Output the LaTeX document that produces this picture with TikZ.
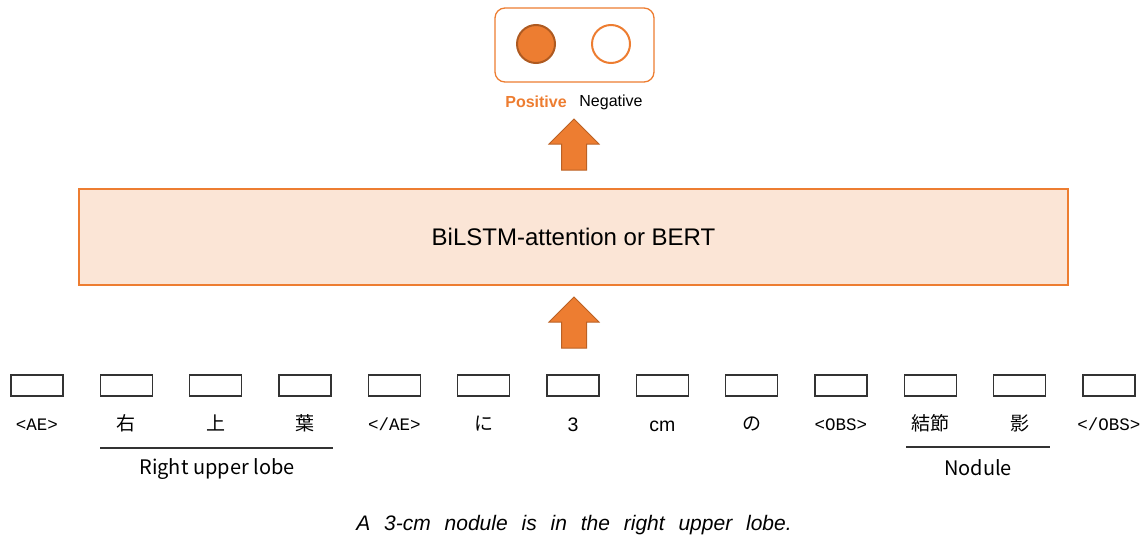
\documentclass[tikz,border=0pt]{standalone}
\usepackage{fontspec}
\setmainfont{Liberation Sans}
\setmonofont{Liberation Mono}
\newfontfamily\jp{Noto Sans CJK JP}
\definecolor{accent}{HTML}{ED7D31}
\definecolor{accentdark}{HTML}{AE5A21}
\definecolor{panel}{HTML}{FBE5D6}
\definecolor{ink}{HTML}{333333}
\tikzset{
  outbox/.style={draw=accent, line width=1.3pt, rounded corners=10pt, minimum width=159pt, minimum height=74pt},
  dot/.style={circle, line width=2pt, minimum size=38pt, inner sep=0pt},
  model/.style={draw=accent, fill=panel, line width=1.5pt, minimum width=989pt, minimum height=96pt, font=\fontsize{24}{28}\selectfont},
  slot/.style={draw=ink, line width=1.5pt, minimum width=52pt, minimum height=21pt, inner sep=0pt},
  tok/.style={font=\fontsize{19.5}{22}\selectfont, anchor=base, inner sep=0pt},
  mono/.style={font=\ttfamily\fontsize{17.5}{20}\selectfont},
  jtok/.style={font=\jp\fontsize{19}{21}\selectfont},
  span/.style={draw=ink, line width=1.2pt},
  spanlabel/.style={font=\jp\fontsize{20}{22}\selectfont, inner sep=0pt},
  flow/.style={fill=accent, draw=accentdark!80!accent, line width=1pt, line join=miter},
}
\newcommand{\uparrowshape}[2]{%
  \draw[flow] (#1-25,#2+25) -- (#1,#2) -- (#1+25,#2+25) -- (#1+12.5,#2+25)
    -- (#1+12.5,#2+51) -- (#1-12.5,#2+51) -- (#1-12.5,#2+25) -- cycle;}
\begin{document}
\begin{tikzpicture}[x=1pt,y=-1pt]
\useasboundingbox (0,0) rectangle (1142,535);

% output classes
\node[outbox] (out) at (574.5,45) {};
\node[dot, fill=accent, draw=accentdark] (pos) at (536,44) {};
\node[dot, fill=white, draw=accent] (neg) at (611,44) {};
\node[font=\bfseries\fontsize{16}{18}\selectfont, text=accent] (poslbl) at (536,102) {Positive};
\node[font=\fontsize{16}{18}\selectfont] (neglbl) at (611,102) {Negative};

% encoder
\node[model] (enc) at (573.5,237) {BiLSTM-attention or BERT};

% flow arrows
\uparrowshape{574}{119}
\uparrowshape{574}{297}

% token slots
\foreach \i in {1,...,13} {
  \node[slot] (t\i) at ({37+89.33*(\i-1)},385.5) {};
}
% token labels (shared baseline)
\node[tok, mono] (l1) at (t1 |- 0,430) {<AE>};
\node[tok, jtok] (l2) at (t2 |- 0,430) {右};
\node[tok, jtok] (l3) at (t3 |- 0,430) {上};
\node[tok, jtok] (l4) at (t4 |- 0,430) {葉};
\node[tok, mono] (l5) at (t5 |- 0,430) {</AE>};
\node[tok, jtok] (l6) at (t6 |- 0,430) {に};
\node[tok] (l7) at (t7 |- 0,431) {3};
\node[tok] (l8) at (t8 |- 0,431) {cm};
\node[tok, jtok] (l9) at (t9 |- 0,430) {の};
\node[tok, mono] (l10) at (t10 |- 0,430) {<OBS>};
\node[tok, jtok] (l11) at (t11 |- 0,430) {結節};
\node[tok, jtok] (l12) at (t12 |- 0,430) {影};
\node[tok, mono] (l13) at (t13 |- 0,430) {</OBS>};

% entity spans
\coordinate (rul-a) at (100,448);
\coordinate (rul-b) at (333,448);
\draw[span] (rul-a) -- (rul-b);
\node[spanlabel] (rul) at (217,469) {Right upper lobe};
\coordinate (nod-a) at (906,447);
\coordinate (nod-b) at (1050,447);
\draw[span] (nod-a) -- (nod-b);
\node[spanlabel] (nod) at (978,468) {Nodule};

% sentence
\node[font=\itshape\fontsize{21}{24}\selectfont] (sent) at (574,525)
  {\spaceskip=0.66em A 3-cm nodule is in the right upper lobe.};
\end{tikzpicture}
\end{document}
